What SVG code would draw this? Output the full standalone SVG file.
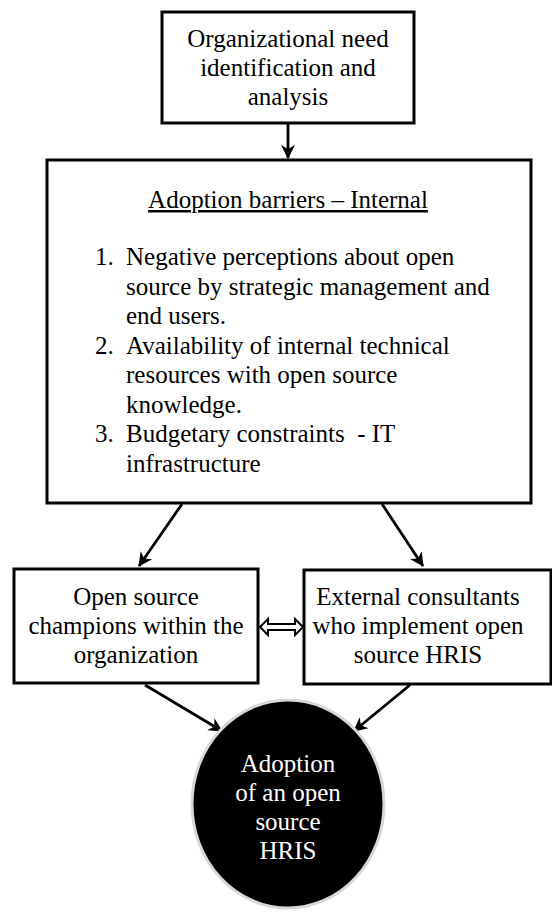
<svg xmlns="http://www.w3.org/2000/svg" width="552" height="915" viewBox="0 0 552 915">
<defs>
<style>
.box{fill:#fff;stroke:#000;stroke-width:3}
.t{font-family:"Liberation Serif","Times New Roman",serif;font-size:25px;fill:#000}
.c{text-anchor:middle}
.w{fill:#fff}
.ln{stroke:#000;stroke-width:2.8;fill:none}
</style>
<marker id="ah" markerUnits="userSpaceOnUse" markerWidth="16" markerHeight="16" viewBox="0 0 16 16" refX="14" refY="8" orient="auto">
<path d="M1,1 L15,8 L1,15 L5,8 Z" fill="#000"/>
</marker>
</defs>
<rect width="552" height="915" fill="#fff"/>
<g id="connectors">
<line class="ln" x1="288" y1="124" x2="288" y2="158" marker-end="url(#ah)"/>
<line class="ln" x1="182" y1="504" x2="139" y2="566" marker-end="url(#ah)"/>
<line class="ln" x1="382" y1="504" x2="423" y2="566" marker-end="url(#ah)"/>
<line class="ln" x1="145" y1="685" x2="222" y2="731" marker-end="url(#ah)"/>
<line class="ln" x1="410" y1="685" x2="354" y2="731" marker-end="url(#ah)"/>
<path d="M260,627 L268,619 L268,624 L295,624 L295,619 L303,627 L295,635 L295,630 L268,630 L268,635 Z" fill="#fff" stroke="#000" stroke-width="2"/>
</g>
<g id="need">
<rect class="box" x="162" y="12" width="252" height="111"/>
<text class="t c" x="288" y="47">Organizational need</text>
<text class="t c" x="288" y="76">identification and</text>
<text class="t c" x="288" y="105">analysis</text>
</g>
<g id="barriers">
<rect class="box" x="47" y="160" width="484" height="343"/>
<text class="t c" x="288" y="208" text-decoration="underline">Adoption barriers – Internal</text>
<text class="t" x="95" y="265">1.</text>
<text class="t" x="126" y="265">Negative perceptions about open</text>
<text class="t" x="126" y="294.5">source by strategic management and</text>
<text class="t" x="126" y="324">end users.</text>
<text class="t" x="95" y="353.5">2.</text>
<text class="t" x="126" y="353.5">Availability of internal technical</text>
<text class="t" x="126" y="383">resources with open source</text>
<text class="t" x="126" y="412.5">knowledge.</text>
<text class="t" x="95" y="442">3.</text>
<text class="t" x="126" y="442" xml:space="preserve">Budgetary constraints  - IT</text>
<text class="t" x="126" y="471.5">infrastructure</text>
</g>
<g id="champions">
<rect class="box" x="14" y="569" width="244" height="114"/>
<text class="t c" x="136" y="605">Open source</text>
<text class="t c" x="136" y="634">champions within the</text>
<text class="t c" x="136" y="663">organization</text>
</g>
<g id="consultants">
<rect class="box" x="304" y="570" width="247" height="114"/>
<text class="t c" x="418" y="605">External consultants</text>
<text class="t c" x="418" y="634">who implement open</text>
<text class="t c" x="418" y="663">source HRIS</text>
</g>
<g id="adoption">
<ellipse cx="288" cy="804" rx="96" ry="104" fill="#000" stroke="#d8d8d8" stroke-width="3"/>
<text class="t c w" x="288" y="772">Adoption</text>
<text class="t c w" x="288" y="801">of an open</text>
<text class="t c w" x="288" y="830">source</text>
<text class="t c w" x="288" y="859">HRIS</text>
</g>
</svg>
